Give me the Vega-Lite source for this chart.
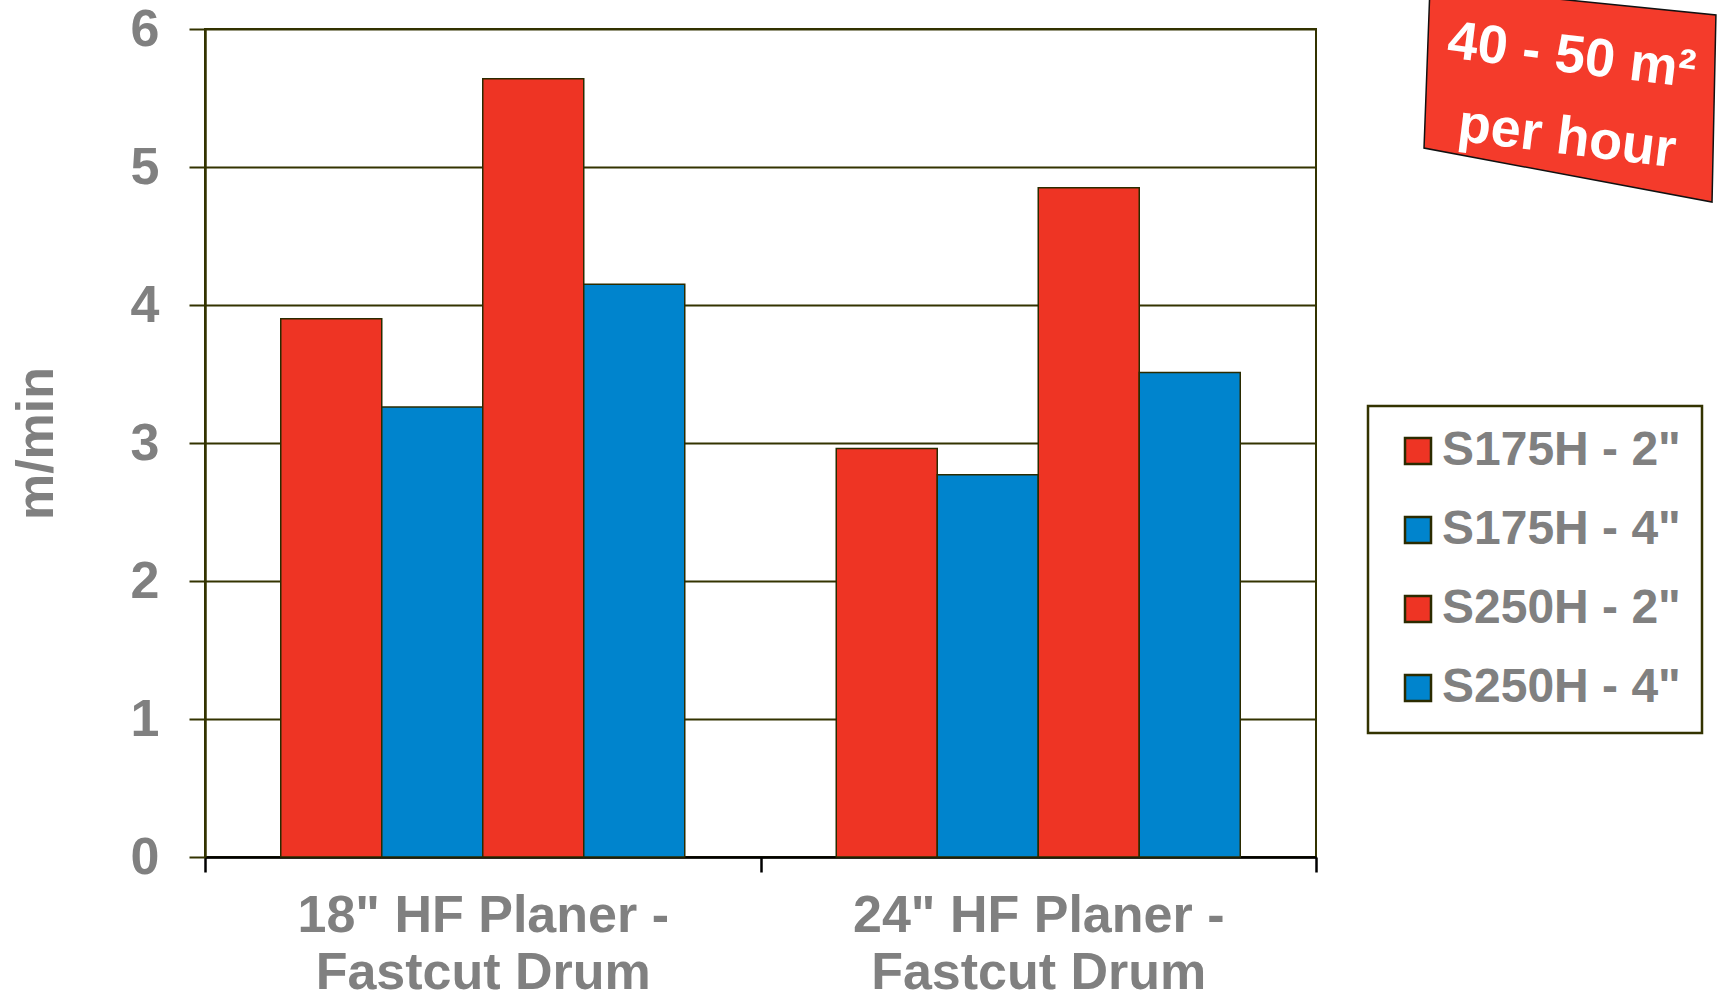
{
  "$schema": "https://vega.github.io/schema/vega-lite/v6.json",
  "autosize": {"type": "none"},
  "padding": {"left": 205, "top": 29, "right": 401, "bottom": 146},
  "width": 1111,
  "height": 828,
  "background": "white",
  "config": {
    "font": "Liberation Sans",
    "view": {"stroke": "#333300", "strokeWidth": 2},
    "legend": {"strokeWidth": 2.5}
  },
  "layer": [
    {
      "data": {
        "values": [
          {"cat": "18\" HF Planer -\nFastcut Drum", "series": "S175H - 2\"", "value": 3.9},
          {"cat": "18\" HF Planer -\nFastcut Drum", "series": "S175H - 4\"", "value": 3.26},
          {"cat": "18\" HF Planer -\nFastcut Drum", "series": "S250H - 2\"", "value": 5.64},
          {"cat": "18\" HF Planer -\nFastcut Drum", "series": "S250H - 4\"", "value": 4.15},
          {"cat": "24\" HF Planer -\nFastcut Drum", "series": "S175H - 2\"", "value": 2.96},
          {"cat": "24\" HF Planer -\nFastcut Drum", "series": "S175H - 4\"", "value": 2.77},
          {"cat": "24\" HF Planer -\nFastcut Drum", "series": "S250H - 2\"", "value": 4.85},
          {"cat": "24\" HF Planer -\nFastcut Drum", "series": "S250H - 4\"", "value": 3.51}
        ]
      },
      "mark": {"type": "bar", "stroke": "#2b2b00", "strokeWidth": 1.5},
      "encoding": {
        "x": {
          "field": "cat", "type": "nominal", "sort": null,
          "scale": {"paddingInner": 0, "paddingOuter": 0},
          "axis": {
            "title": null, "labelAngle": 0, "tickBand": "extent",
            "labelExpr": "split(datum.label, '\\n')",
            "labelFontSize": 52, "labelFontWeight": "bold", "labelColor": "#808080",
            "labelLineHeight": 57, "labelPadding": 18, "labelLimit": 800,
            "tickSize": 15, "tickColor": "#000000", "tickWidth": 2.5,
            "domainColor": "#000000", "domainWidth": 2.5, "grid": false
          }
        },
        "xOffset": {
          "field": "series", "type": "nominal", "sort": null,
          "scale": {"paddingInner": 0, "paddingOuter": 0.75}
        },
        "y": {
          "field": "value", "type": "quantitative",
          "scale": {"domain": [0, 6], "nice": false},
          "axis": {
            "title": "m/min", "titleFontSize": 52, "titleFontWeight": "bold", "titleColor": "#808080", "titlePadding": 67,
            "values": [0, 1, 2, 3, 4, 5, 6],
            "labelFontSize": 52, "labelFontWeight": "bold", "labelColor": "#808080", "labelPadding": 30,
            "tickSize": 16, "tickColor": "#333300", "tickWidth": 2,
            "domainColor": "#333300", "domainWidth": 2.5,
            "grid": true, "gridColor": "#333300", "gridWidth": 2
          }
        },
        "color": {
          "field": "series", "type": "nominal", "sort": null,
          "scale": {
            "domain": ["S175H - 2\"", "S175H - 4\"", "S250H - 2\"", "S250H - 4\""],
            "range": ["#EE3424", "#0084CD", "#EE3424", "#0084CD"]
          },
          "legend": {
            "orient": "none", "legendX": 1163, "legendY": 377, "title": null,
            "padding": 21, "symbolOffset": 5, "labelOffset": 0, "rowPadding": 31,
            "symbolType": "square", "symbolSize": 676,
            "symbolStrokeColor": "#2b2b00", "symbolStrokeWidth": 2.5,
            "labelFontSize": 48, "labelFontWeight": "bold", "labelColor": "#808080", "labelLimit": 400,
            "strokeColor": "#333300", "fillColor": "white"
          }
        }
      }
    },
    {
      "data": {"values": [{"ax": 1.2286, "ay": 5.572}]},
      "mark": {
        "type": "point", "filled": true,
        "shape": "M-0.933,-0.68L0.973,-0.487L0.947,0.76L-0.973,0.4Z",
        "size": 90000, "fill": "#F43B2B", "stroke": "#111111", "strokeWidth": 1.5, "opacity": 1
      },
      "encoding": {
        "x": {"field": "ax", "type": "quantitative", "scale": {"domain": [0, 1], "nice": false, "zero": false}, "axis": null},
        "y": {"field": "ay", "type": "quantitative", "scale": {"domain": [0, 6], "nice": false}, "axis": null}
      }
    },
    {
      "data": {
        "values": [
          {"t": "40 - 50 m²", "ax": 1.2301, "ay": 5.8},
          {"t": "per hour", "ax": 1.2259, "ay": 5.21}
        ]
      },
      "mark": {
        "type": "text", "fontSize": 54, "fontWeight": "bold", "color": "white",
        "angle": 7, "align": "center", "baseline": "middle"
      },
      "encoding": {
        "x": {"field": "ax", "type": "quantitative", "scale": {"domain": [0, 1], "nice": false, "zero": false}, "axis": null},
        "y": {"field": "ay", "type": "quantitative", "scale": {"domain": [0, 6], "nice": false}, "axis": null},
        "text": {"field": "t", "type": "nominal"}
      }
    }
  ],
  "resolve": {"scale": {"x": "independent", "y": "independent"}}
}
